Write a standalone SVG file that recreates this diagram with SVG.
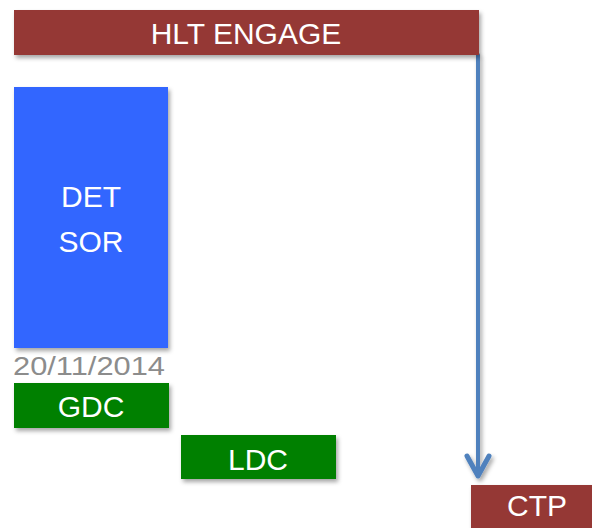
<svg xmlns="http://www.w3.org/2000/svg" width="592" height="528" viewBox="0 0 592 528">
  <style>
    .lbl { font-family: "Liberation Sans", Arial, sans-serif; fill: #ffffff; text-anchor: middle; }
    .red { fill: #953735; }
    .green { fill: #008000; }
    .blue { fill: #3366ff; }
    .date { font-family: "Liberation Sans", Arial, sans-serif; fill: #8c8c8c; font-size: 26px; }
    .flow { stroke: #4f81bd; fill: none; stroke-linecap: round; stroke-linejoin: round; }
  </style>
  <defs>
    <filter id="shadow" x="-10%" y="-10%" width="125%" height="140%">
      <feDropShadow dx="2" dy="3" stdDeviation="2" flood-color="#000" flood-opacity="0.35"/>
    </filter>
    <filter id="lineShadow" filterUnits="userSpaceOnUse" x="440" y="40" width="80" height="460">
      <feDropShadow dx="2" dy="3" stdDeviation="2" flood-color="#000" flood-opacity="0.35"/>
    </filter>
  </defs>

  <rect width="592" height="528" fill="#ffffff"/>

  <g id="connectors" filter="url(#lineShadow)">
    <path class="flow" d="M478,55 L478,476" stroke-width="4" stroke-linecap="butt"/>
    <path class="flow" d="M467,456 L478,476 L489,456" stroke-width="5"/>
  </g>

  <g id="hlt-engage">
    <rect class="red" x="14" y="10" width="465" height="45" filter="url(#shadow)"/>
    <text class="lbl" x="246" y="44" font-size="30">HLT ENGAGE</text>
  </g>

  <g id="det-sor">
    <rect class="blue" x="14" y="87" width="154" height="261" filter="url(#shadow)"/>
    <text class="lbl" x="91" y="207" font-size="30">DET</text>
    <text class="lbl" x="91" y="252" font-size="30">SOR</text>
  </g>

  <g id="date">
    <text class="date" x="13" y="375" textLength="152" lengthAdjust="spacingAndGlyphs">20/11/2014</text>
  </g>

  <g id="gdc">
    <rect class="green" x="14" y="383" width="155" height="45" filter="url(#shadow)"/>
    <text class="lbl" x="91" y="417" font-size="30">GDC</text>
  </g>

  <g id="ldc">
    <rect class="green" x="181" y="435" width="155" height="44" filter="url(#shadow)"/>
    <text class="lbl" x="258" y="470" font-size="30">LDC</text>
  </g>

  <g id="ctp">
    <rect class="red" x="471" y="485" width="130" height="50" filter="url(#shadow)"/>
    <text class="lbl" x="537" y="516" font-size="30">CTP</text>
  </g>
</svg>
